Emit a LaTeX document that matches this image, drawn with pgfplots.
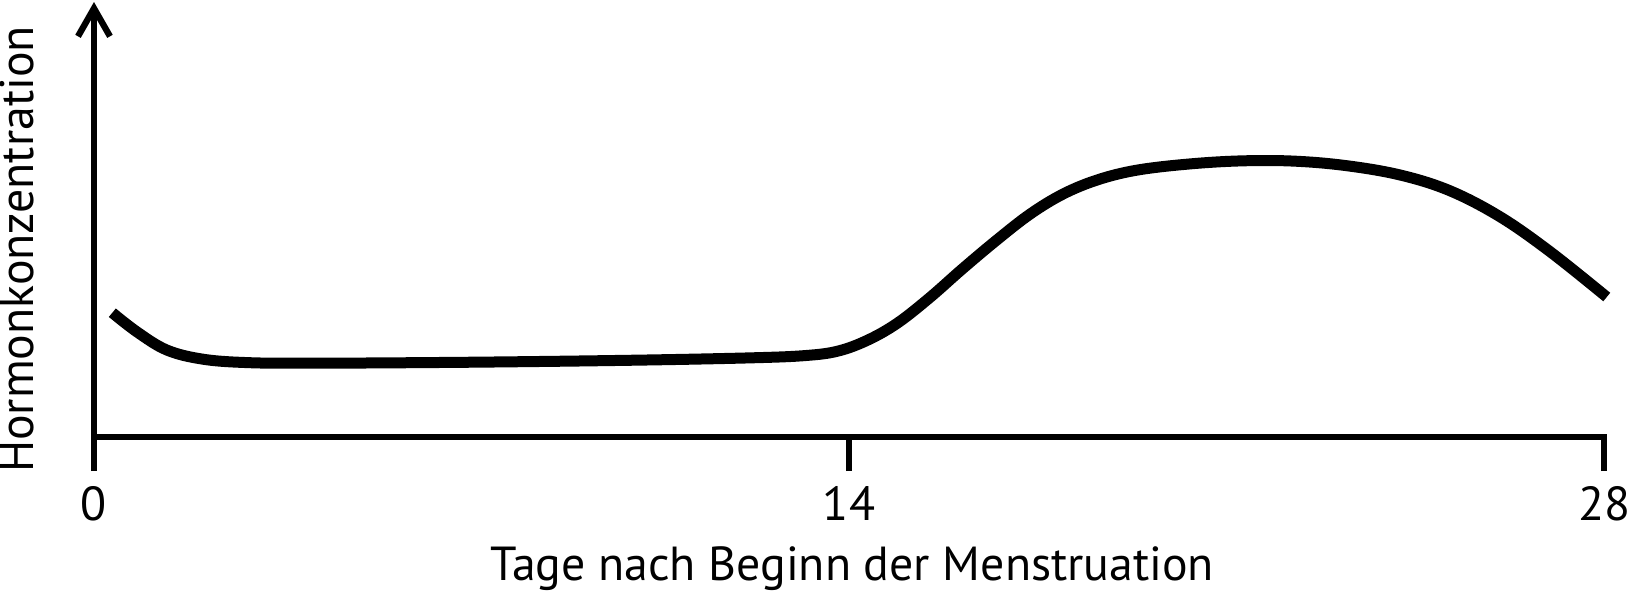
\documentclass[border=0pt]{standalone}
\usepackage{pgfplots}
\pgfplotsset{compat=1.18}
\usepackage{fontspec}
\setmainfont{PT Sans}
\usetikzlibrary{arrows.meta}
\begin{document}
\begin{tikzpicture}
\begin{axis}[
  scale only axis, width=15.10cm, height=4.35cm,
  xmin=0, xmax=28, ymin=0, ymax=435,
  clip=false,
  axis x line*=bottom, axis y line*=left,
  x axis line style={line width=0.063cm, line cap=rect},
  y axis line style={line width=0.063cm, -{Straight Barb[length=0.28cm,width=0.32cm]}},
  ytick=\empty,
  xtick={0,14,28}, xticklabels={0,14,28},
  tick align=outside, major tick length=0.34cm,
  x tick style={line width=0.063cm, black},
  /pgf/number format/assume math mode=true,
  xticklabel style={font=\fontsize{13.6}{16}\selectfont, anchor=base, inner sep=0pt, yshift=-0.49cm},
  every axis x label/.style={at={(axis cs:14.06,-143)}, anchor=base, inner sep=0pt, font=\fontsize{13.6}{16}\selectfont},
  every axis y label/.style={at={(axis cs:-1.094,187.5)}, rotate=90, anchor=south, inner sep=0pt, font=\fontsize{13.6}{16}\selectfont},
  xlabel={Tage nach Beginn der Menstruation},
  ylabel={Hormonkonzentration},
]
\addplot[black, line width=0.11cm, smooth, tension=0.6] coordinates {
(0.34,124.3) (0.8,105) (1.35,87) (2.0,78) (2.8,74.5) (4.0,73.8)
(7.0,74.8) (10.0,76.8) (12.2,79.2) (13.2,81.5) (13.8,86) (14.35,97)
(14.9,114) (15.5,139.5) (16.1,168) (16.74,197) (17.36,223) (17.97,243)
(18.6,257) (19.3,266.5) (20.2,272.5) (21.2,276) (22.2,276) (23.2,271.5)
(24.22,262) (25.14,246.3) (26.07,220.3) (27.0,185.3)
(28.05,140)
};
\coordinate (bl) at (axis cs:-1.743,-154);
\coordinate (tr) at (axis cs:28.481,437);
\end{axis}
\pgfresetboundingbox
\path[use as bounding box] (bl) rectangle (tr);
\end{tikzpicture}
\end{document}
